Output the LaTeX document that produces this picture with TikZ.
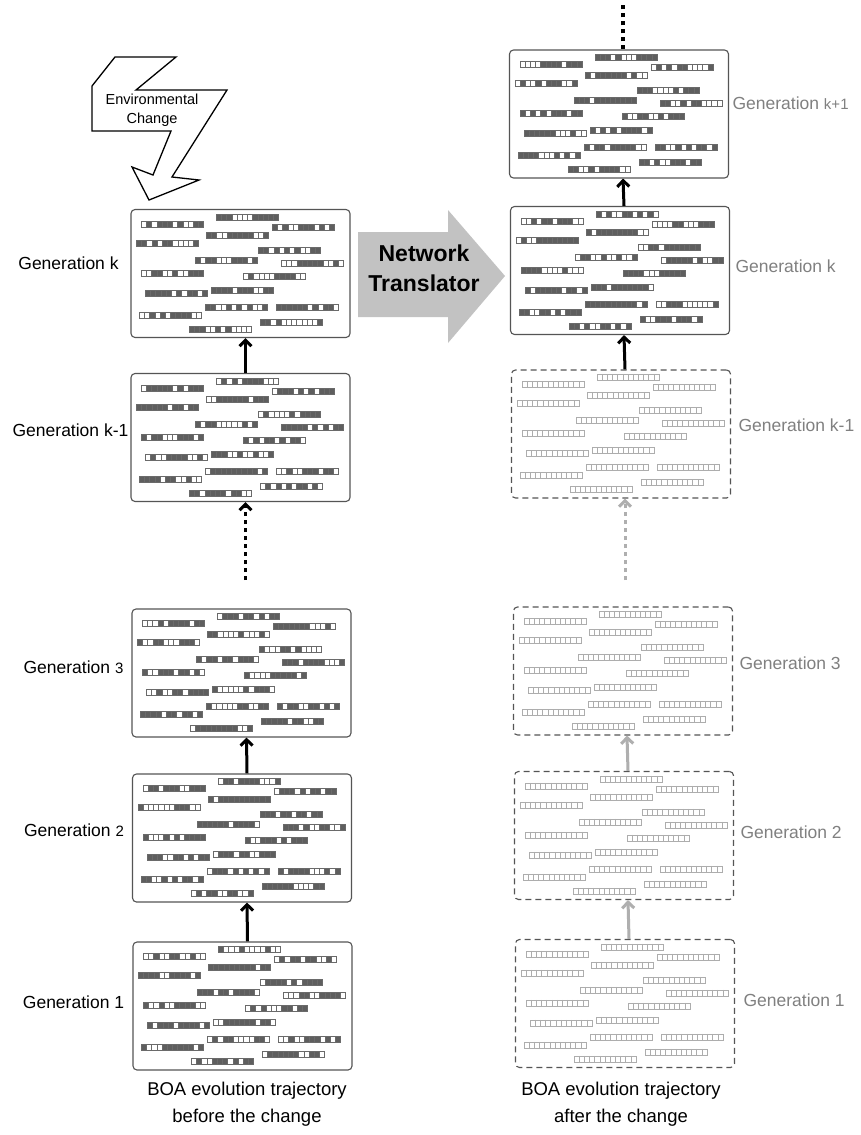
\documentclass[tikz,border=0pt]{standalone}
\usepackage{fontspec}
\setmainfont{Liberation Sans}
\usetikzlibrary{arrows.meta}
\definecolor{boxedge}{HTML}{555555}
\definecolor{celldark}{HTML}{5E5E5E}
\definecolor{celledge}{HTML}{6A6A6A}
\definecolor{faintedge}{HTML}{ADADAD}
\definecolor{labgray}{HTML}{808080}
\definecolor{fadearrow}{HTML}{AFAFAF}
\definecolor{translfill}{HTML}{C2C2C2}

\newcommand\chromlist{86/8,11/15,142/18,76/26,6/34,128/41,65/51,151/54,11/64,113/67,15/84,81/81,75/98,146/98,9/106,130/113,59/120}

\newcommand\darkchroms[2]{%
  \pgfmathsetseed{#2}%
  \begin{scope}[shift={(#1.north west)}]
  \foreach \sx/\sy in \chromlist {
    \foreach \c in {0,...,11} {
      \pgfmathrandominteger{\rr}{0}{99}
      \ifnum\rr<60
        \filldraw[fill=celldark, draw=celledge, line width=0.6pt] (\sx+\c*5.17,\sy-3) rectangle ++(5.17,6);
      \else
        \filldraw[fill=white, draw=celledge, line width=0.6pt] (\sx+\c*5.17,\sy-3) rectangle ++(5.17,6);
      \fi
    }
  }
  \end{scope}}

\newcommand\faintchroms[1]{%
  \begin{scope}[shift={(#1.north west)}]
  \foreach \sx/\sy in \chromlist {
    \draw[faintedge, line width=0.6pt] (\sx,\sy-3) rectangle ++(62,6);
    \foreach \c in {1,...,11} {
      \draw[faintedge, line width=0.5pt] (\sx+\c*5.17,\sy-3) -- ++(0,6);
    }
  }
  \end{scope}}

\begin{document}
\begin{tikzpicture}[x=1pt,y=-1pt,
  genbox/.style={draw=boxedge, line width=1.1pt, rounded corners=4pt, minimum width=219pt, minimum height=128pt, inner sep=0pt, fill=white},
  ghostbox/.style={genbox, dash pattern=on 6pt off 4pt},
  leftlab/.style={font=\fontsize{17.5}{20}\selectfont, text=black},
  rightlab/.style={font=\fontsize{17.5}{20}\selectfont, text=labgray, anchor=west},
  uparrow/.style={line width=3pt, -{Straight Barb[length=6pt,width=12pt]}},
  fadeup/.style={uparrow, draw=fadearrow},
  dotarrow/.style={uparrow, dash pattern=on 4pt off 4pt},
  fadedot/.style={fadeup, dash pattern=on 4pt off 4pt},
  dotline/.style={line width=3.5pt, dash pattern=on 4pt off 4pt},
  bottomlab/.style={font=\fontsize{18.5}{27}\selectfont, align=center}]
\useasboundingbox[fill=white] (0,0) rectangle (861,1135);

% left column boxes
\node[genbox] (Lk)  at (240.5,273.5) {};
\node[genbox] (Lkm) at (240.5,437.5) {};
\node[genbox] (L3)  at (241.5,673) {};
\node[genbox] (L2)  at (242,838) {};
\node[genbox] (L1)  at (242.5,1006) {};

% right column boxes
\node[genbox] (Rkp) at (619,114) {};
\node[genbox] (Rk)  at (620,270.5) {};
\node[ghostbox] (Rkm) at (621,434) {};
\node[ghostbox] (R3)  at (623,671) {};
\node[ghostbox] (R2)  at (624,835.5) {};
\node[ghostbox] (R1)  at (625,1003.5) {};

\darkchroms{Lk}{11}
\darkchroms{Lkm}{23}
\darkchroms{L3}{37}
\darkchroms{L2}{41}
\darkchroms{L1}{53}
\darkchroms{Rkp}{67}
\darkchroms{Rk}{79}
\faintchroms{Rkm}
\faintchroms{R3}
\faintchroms{R2}
\faintchroms{R1}

% left labels
\node[leftlab] (tLk)  at (68.5,263) {Generation k};
\node[leftlab] (tLkm) at (70.5,430) {Generation k-1};
\node[leftlab] (tL3)  at (73.5,667) {Generation {\fontsize{15}{18}\selectfont 3}};
\node[leftlab] (tL2)  at (74,830) {Generation {\fontsize{15}{18}\selectfont 2}};
\node[leftlab] (tL1)  at (73.5,1002) {Generation 1};

% right labels
\node[rightlab] (tRkp) at (729,103) {Generation {\fontsize{15}{18}\selectfont k+1}};
\node[rightlab] (tRk)  at (732,266) {Generation k};
\node[rightlab] (tRkm) at (735,425) {Generation k-1};
\node[rightlab] (tR3)  at (736,663) {Generation 3};
\node[rightlab] (tR2)  at (737,832) {Generation 2};
\node[rightlab] (tR1)  at (740,1000) {Generation 1};

% left connectors
\draw[uparrow] ([xshift=5pt]L1.north) -- ([xshift=5pt]L2.south);
\draw[uparrow] ([xshift=5pt]L2.north) -- ([xshift=5pt]L3.south);
\coordinate (Ldots) at (245.5,580);
\draw[dotarrow] (Ldots) -- ([xshift=5pt]Lkm.south);
\draw[uparrow] ([xshift=5pt]Lkm.north) -- ([xshift=5pt]Lk.south);

% right connectors
\draw[fadeup] ([xshift=4pt]R1.north) -- ([xshift=4pt]R2.south);
\draw[fadeup] ([xshift=4pt]R2.north) -- ([xshift=4pt]R3.south);
\coordinate (Rdots) at (625,580);
\draw[fadedot] (Rdots) -- ([xshift=4pt]Rkm.south);
\draw[uparrow] ([xshift=4pt]Rkm.north) -- ([xshift=4pt]Rk.south);
\draw[uparrow] ([xshift=4pt]Rk.north) -- ([xshift=4pt]Rkp.south);
\coordinate (Rtop) at (623,2);
\draw[dotline] ([xshift=4pt]Rkp.north) -- (Rtop);

% network translator arrow
\fill[translfill] (358,232) -- (448,232) -- (448,210) -- (505,276) -- (448,343) -- (448,317) -- (358,317) -- cycle;
\node[font=\fontsize{23}{30}\selectfont\bfseries, align=center] (nt) at (424,268) {Network\\Translator};

% environmental change bolt
\draw[line width=1.3pt, fill=white, line join=miter]
  (115,57) -- (176,57) -- (136,90) -- (227,90) -- (172,177) -- (199,180) -- (149,200)
  -- (132,167) -- (153,175) -- (171,131) -- (92,131) -- (92,86) -- cycle;
\node[font=\fontsize{14.5}{19}\selectfont, align=center] (env) at (152,110) {Environmental\\Change};

% bottom captions
\node[bottomlab] (capL) at (247,1104) {BOA evolution trajectory\\before the change};
\node[bottomlab] (capR) at (621,1104) {BOA evolution trajectory\\after the change};
\end{tikzpicture}
\end{document}
